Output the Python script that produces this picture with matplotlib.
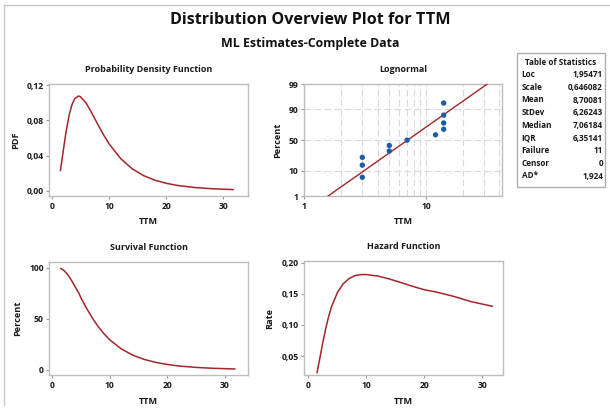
import math
import numpy as np
import matplotlib
matplotlib.use("Agg")
import matplotlib.pyplot as plt
from matplotlib.lines import Line2D
from matplotlib.patches import Rectangle

plt.rcParams['font.family'] = ['Open Sans', 'DejaVu Sans']

# ---------------- data ----------------
ttm = [1.5, 2, 2.5, 3, 3.5, 4, 4.65, 5, 6, 7, 8, 9, 10, 12, 14, 16, 18, 20, 22, 25, 28, 31.7]
pdf_vals = [0.0231, 0.0459, 0.0678, 0.0855, 0.0977, 0.1048, 0.1078, 0.1070, 0.0997, 0.0882,
            0.0758, 0.0640, 0.0534, 0.0368, 0.0252, 0.0173, 0.0120, 0.00845, 0.00598,
            0.00365, 0.00227, 0.00131]
surv_pct = [99.2, 97.5, 94.6, 90.8, 86.2, 81.1, 75.0, 70.4, 60.0, 50.6, 42.3, 35.4, 29.5,
            20.6, 14.5, 10.3, 7.4, 5.4, 3.9, 2.5, 1.65, 1.0]
hazard = [0.0233, 0.0471, 0.0717, 0.0942, 0.1133, 0.1292, 0.1437, 0.152, 0.166, 0.1743,
          0.1792, 0.1808, 0.181, 0.1786, 0.1738, 0.168, 0.162, 0.1565, 0.153, 0.146,
          0.1376, 0.130]

obs_ttm = [3, 3, 3, 5, 5, 7, 12, 14, 14, 14, 14]
obs_pct = [6.1, 14.9, 23.7, 32.5, 41.2, 50.0, 58.8, 67.5, 76.3, 85.1, 93.9]
fit_x = [1.57, 31.7]
fit_pct = [1, 99]

stat_names = ["Loc", "Scale", "Mean", "StDev", "Median", "IQR", "Failure", "Censor", "AD*"]
stat_vals = ["1,95471", "0,646082", "8,70081", "6,26243", "7,06184", "6,35141", "11", "0", "1,924"]

# ---------------- style ----------------
W, H = 610, 409
RED = '#A3262B'
BLUE = '#1C5DA8'
SPINE = '#BDBDBD'
TXT = '#1A1A1A'
WT = 'bold'

fig = plt.figure(figsize=(6.1, 4.09), dpi=100)


def ax_px(l, t, r, b):
    return fig.add_axes([l / W, 1 - b / H, (r - l) / W, (b - t) / H])


def style(ax):
    for s in ax.spines.values():
        s.set_color(SPINE)
        s.set_linewidth(1.0)
    ax.tick_params(axis='both', which='major', length=2.5, width=0.8, color='#9A9A9A',
                   labelsize=6.2, labelcolor=TXT, pad=1.5)
    for lab in ax.get_xticklabels() + ax.get_yticklabels():
        lab.set_fontweight(WT)


def labels(ax, title, xl, yl):
    ax.set_title(title, fontsize=6.5, fontweight=WT, pad=9, color=TXT)
    ax.set_xlabel(xl, fontsize=6.6, fontweight=WT, labelpad=5, color=TXT)
    ax.set_ylabel(yl, fontsize=6.6, fontweight=WT, labelpad=5, color=TXT)


def comma(fmt):
    return lambda v, p: (fmt % v).replace('.', ',')


# PDF
ax1 = ax_px(49.3, 84.3, 248, 196)
ax1.plot(ttm, pdf_vals, color=RED, lw=1.1)
ax1.set_xlim(-0.45, 34.3)
ax1.set_ylim(-0.006, 0.1211)
ax1.set_xticks([0, 10, 20, 30])
ax1.set_yticks([0.0, 0.04, 0.08, 0.12])
ax1.yaxis.set_major_formatter(plt.FuncFormatter(comma('%.2f')))
labels(ax1, "Probability Density Function", "TTM", "PDF")
style(ax1)

# Lognormal probability plot
erf_v = np.vectorize(math.erf, otypes=[float])


def norm_cdf(z):
    z = np.asarray(z, float)
    if z.size == 0:
        return z.copy()
    return 0.5 * (1 + erf_v(z / math.sqrt(2)))


def norm_ppf(p):
    p = np.asarray(p, float)
    if p.size == 0:
        return p.copy()
    p = np.clip(p, 1e-9, 1 - 1e-9)
    lo = np.full(p.shape, -9.0)
    hi = np.full(p.shape, 9.0)
    for _ in range(60):
        mid = 0.5 * (lo + hi)
        c = norm_cdf(mid)
        lo = np.where(c < p, mid, lo)
        hi = np.where(c < p, hi, mid)
    return 0.5 * (lo + hi)


def fwd(pct):
    return norm_ppf(np.asarray(pct, float) / 100.0)


def inv(z):
    return norm_cdf(z) * 100.0


ax2 = ax_px(304.3, 84.3, 501.7, 196)
ax2.set_xscale('log')
ax2.set_yscale('function', functions=(fwd, inv))
ax2.set_xlim(1, 42)
ax2.set_ylim(1, 99)
ax2.set_xticks([1, 10])
ax2.set_xticklabels(["1", "10"])
ax2.set_xticks([2, 3, 4, 5, 6, 7, 8, 9, 20, 30, 40], minor=True)
ax2.set_xticklabels([], minor=True)
ax2.set_yticks([1, 10, 50, 90, 99])
ax2.set_yticklabels(["1", "10", "50", "90", "99"])
ax2.set_yticks([], minor=True)
ax2.grid(True, which='both', color='#DADADA', ls=(0, (6, 3)), lw=0.8)
ax2.tick_params(which='minor', length=0)
ax2.plot(fit_x, fit_pct, color=RED, lw=1.0, zorder=3)
ax2.scatter(obs_ttm, obs_pct, s=15, color=BLUE, zorder=4, edgecolors='none')
labels(ax2, "Lognormal", "TTM", "Percent")
style(ax2)

# Survival
ax3 = ax_px(49.3, 262.3, 248, 375)
ax3.plot(ttm, surv_pct, color=RED, lw=1.1)
ax3.set_xlim(-0.5, 34.0)
ax3.set_ylim(-4.9, 105.3)
ax3.set_xticks([0, 10, 20, 30])
ax3.set_yticks([0, 50, 100])
labels(ax3, "Survival Function", "TTM", "Percent")
style(ax3)

# Hazard
ax4 = ax_px(304.3, 261.3, 502.7, 375.3)
ax4.plot(ttm, hazard, color=RED, lw=1.1)
ax4.set_xlim(-0.69, 33.5)
ax4.set_ylim(0.019, 0.2023)
ax4.set_xticks([0, 10, 20, 30])
ax4.set_yticks([0.05, 0.10, 0.15, 0.20])
ax4.yaxis.set_major_formatter(plt.FuncFormatter(comma('%.2f')))
labels(ax4, "Hazard Function", "TTM", "Rate")
style(ax4)

# Titles
fig.text(310 / W, 1 - 20 / H, "Distribution Overview Plot for TTM", ha='center', va='center',
         fontsize=11.6, fontweight='bold', color='#111111')
fig.text(310 / W, 1 - 43 / H, "ML Estimates-Complete Data", ha='center', va='center',
         fontsize=8.9, fontweight='bold', color='#111111')

# Table of statistics
fig.add_artist(Rectangle((516.7 / W, 1 - 187.3 / H), (605 - 516.7) / W, (187.3 - 52.7) / H,
                         transform=fig.transFigure, fill=False, edgecolor='#AFAFAF', lw=1.0))
fig.text(561 / W, 1 - 62.7 / H, "Table of Statistics", ha='center', va='center',
         fontsize=5.9, fontweight=WT, color=TXT)
row_y = [74.3, 87.3, 100, 112.6, 125.3, 138, 150.7, 163.3, 176]
for name, val, y in zip(stat_names, stat_vals, row_y):
    fig.text(521.5 / W, 1 - y / H, name, ha='left', va='center', fontsize=5.9,
             fontweight=WT, color=TXT)
    fig.text(603 / W, 1 - y / H, val, ha='right', va='center', fontsize=5.9,
             fontweight=WT, color=TXT)

# outer frame lines
fig.add_artist(Line2D([4 / W, 4 / W], [1 - 5 / H, 1 - 405 / H], transform=fig.transFigure,
                      color='#C8C8C8', lw=1.0))
fig.add_artist(Line2D([4 / W, 1], [1 - 5 / H, 1 - 5 / H], transform=fig.transFigure,
                      color='#C8C8C8', lw=1.0))

fig.savefig("out.png", dpi=100)
